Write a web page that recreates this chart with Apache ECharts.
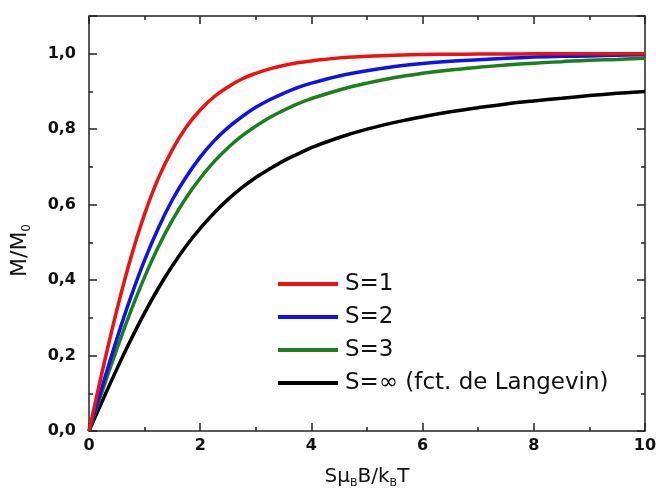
<!DOCTYPE html>
<html>
<head>
<meta charset="utf-8">
<script src="https://cdn.jsdelivr.net/npm/echarts@6/dist/echarts.min.js"></script>
<style>
html,body{margin:0;padding:0;background:#fff;}
#chart{width:656px;height:491px;}
</style>
</head>
<body>
<div id="chart"></div>
<script>
// ---- data ----
const xValues = [0, 0.25, 0.5, 0.75, 1, 1.25, 1.5, 1.75, 2, 2.25, 2.5, 2.75, 3, 3.25, 3.5, 3.75, 4, 4.5, 5, 5.5, 6, 6.5, 7, 7.5, 8, 8.5, 9, 9.5, 10];
const s1Values = [0, 0.165, 0.320, 0.458, 0.575, 0.671, 0.746, 0.806, 0.851, 0.886, 0.912, 0.933, 0.948, 0.960, 0.969, 0.976, 0.981, 0.989, 0.993, 0.996, 0.998, 0.9985, 0.999, 0.9994, 0.9997, 0.9998, 0.9999, 0.9999, 1.000];
const s2Values = [0, 0.124, 0.244, 0.354, 0.453, 0.539, 0.613, 0.674, 0.726, 0.769, 0.804, 0.833, 0.858, 0.878, 0.895, 0.910, 0.922, 0.941, 0.955, 0.966, 0.974, 0.980, 0.984, 0.988, 0.991, 0.993, 0.994, 0.996, 0.997];
const s3Values = [0, 0.111, 0.217, 0.317, 0.408, 0.489, 0.559, 0.619, 0.670, 0.714, 0.751, 0.782, 0.808, 0.831, 0.850, 0.867, 0.881, 0.904, 0.922, 0.937, 0.948, 0.957, 0.964, 0.970, 0.975, 0.979, 0.983, 0.985, 0.988];
const langevinValues = [0, 0.083, 0.164, 0.241, 0.313, 0.379, 0.438, 0.491, 0.537, 0.578, 0.614, 0.645, 0.672, 0.695, 0.716, 0.734, 0.751, 0.778, 0.800, 0.818, 0.833, 0.846, 0.857, 0.867, 0.875, 0.882, 0.889, 0.895, 0.900];
const seriesNames = ['S=1', 'S=2', 'S=3', 'S=\u221e (fct. de Langevin)'];
const xTickLabels = {0: '0', 2: '2', 4: '4', 6: '6', 8: '8', 10: '10'};
const yTickLabels = {'0.0': '0,0', '0.2': '0,2', '0.4': '0,4', '0.6': '0,6', '0.8': '0,8', '1.0': '1,0'};

// ---- styling ----
const FONT = 'DejaVu Sans';
const colors = ['#ee1111', '#1111ee', '#1b801b', '#000000'];
const allValues = [s1Values, s2Values, s3Values, langevinValues];

const axisLineStyle = {color: '#222', width: 1.5};
function frameAxis(extra) {
  return Object.assign({
    type: 'value',
    axisLine: {show: true, onZero: false, lineStyle: axisLineStyle},
    axisTick: {show: true, inside: true, length: 8, lineStyle: axisLineStyle},
    minorTick: {show: true, splitNumber: 2, length: 4, lineStyle: axisLineStyle},
    splitLine: {show: false},
    minorSplitLine: {show: false}
  }, extra);
}

const chart = echarts.init(document.getElementById('chart'), null, {renderer: 'canvas'});
chart.setOption({
  animation: false,
  backgroundColor: '#fff',
  grid: {left: 89, right: 11, top: 16, bottom: 60, containLabel: false, outerBoundsMode: 'none'},
  legend: {
    data: seriesNames,
    orient: 'vertical',
    left: 273,
    top: 266,
    icon: 'rect',
    itemWidth: 60,
    itemHeight: 4,
    itemGap: 7,
    textStyle: {fontFamily: FONT, fontSize: 23, color: '#111', lineHeight: 26, padding: [0, 0, 0, 2]}
  },
  xAxis: [
    frameAxis({
      position: 'bottom', min: 0, max: 10, interval: 2,
      axisLabel: {show: true, margin: 7, fontFamily: FONT, fontWeight: 'bold', fontSize: 16, color: '#111',
        formatter: v => xTickLabels[v] !== undefined ? xTickLabels[v] : ''},
      name: '{n|S\u03bc}{s|B}{n|B/k}{s|B}{n|T}',
      nameLocation: 'middle',
      nameGap: 36,
      nameTextStyle: {
        rich: {
          n: {fontFamily: FONT, fontSize: 20, color: '#111', lineHeight: 22, verticalAlign: 'top'},
          s: {fontFamily: FONT, fontSize: 11, color: '#111', lineHeight: 8, verticalAlign: 'bottom'}
        }
      }
    }),
    frameAxis({position: 'top', min: 0, max: 10, interval: 2, axisLabel: {show: false}})
  ],
  yAxis: [
    frameAxis({
      position: 'left', min: 0, max: 1.1, interval: 0.2,
      axisLabel: {show: true, margin: 13, fontFamily: FONT, fontWeight: 'bold', fontSize: 16, color: '#111',
        showMaxLabel: false,
        formatter: v => { const k = v.toFixed(1); return yTickLabels[k] !== undefined ? yTickLabels[k] : ''; }},
      name: '{n|M/M}{s|0}',
      nameLocation: 'middle',
      nameGap: 56,
      nameTextStyle: {
        padding: [0, 54, 0, 0],
        rich: {
          n: {fontFamily: FONT, fontSize: 22, color: '#111', lineHeight: 24, verticalAlign: 'top'},
          s: {fontFamily: FONT, fontSize: 12, color: '#111', lineHeight: 8, verticalAlign: 'bottom'}
        }
      }
    }),
    frameAxis({position: 'right', min: 0, max: 1.1, interval: 0.2, axisLabel: {show: false}})
  ],
  series: allValues.map((vals, i) => ({
    name: seriesNames[i],
    type: 'line',
    xAxisIndex: 0,
    yAxisIndex: 0,
    data: xValues.map((x, j) => [x, vals[j]]),
    smooth: 0.4,
    showSymbol: false,
    symbol: 'none',
    lineStyle: {color: colors[i], width: 3.5},
    itemStyle: {color: colors[i]},
    z: 10 - i
  }))
});
</script>
</body>
</html>
